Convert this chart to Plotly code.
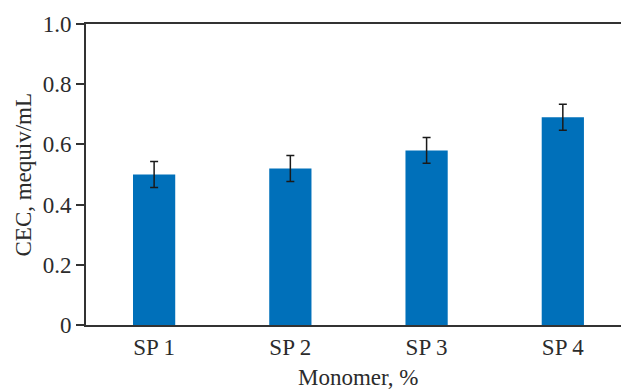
import plotly.graph_objects as go

# Cation exchange capacity of the sorbent polymers
categories = ["SP 1", "SP 2", "SP 3", "SP 4"]
cec_values = [0.50, 0.52, 0.58, 0.69]
cec_errors = [0.043, 0.043, 0.043, 0.043]
y_tick_values = [0, 0.2, 0.4, 0.6, 0.8, 1.0]
y_tick_labels = ["0", "0.2", "0.4", "0.6", "0.8", "1.0"]

FONT = "Liberation Serif"
INK = "#2b2b2b"
SIZE = 23

fig = go.Figure(
    go.Bar(
        x=list(range(len(categories))),
        y=cec_values,
        width=0.31,
        marker=dict(color="#0070BA", line=dict(width=0)),
        error_y=dict(type="data", array=cec_errors, visible=True,
                     color="#1a1a1a", thickness=1.5, width=4),
    )
)

fig.update_layout(
    width=621, height=390,
    margin=dict(l=86, r=0, t=24, b=65),
    paper_bgcolor="white", plot_bgcolor="white",
    showlegend=False,
    font=dict(family=FONT, size=SIZE, color=INK),
    xaxis=dict(
        range=[-0.5, 3.427],
        tickvals=list(range(len(categories))), ticktext=categories,
        showline=True, linecolor="#333333", linewidth=2, mirror=True,
        ticks="", showgrid=False, zeroline=False,
        tickfont=dict(family=FONT, size=SIZE, color=INK),
    ),
    yaxis=dict(
        range=[0, 1.0],
        tickvals=y_tick_values, ticktext=y_tick_labels,
        showline=True, linecolor="#333333", linewidth=2,
        ticks="outside", ticklen=8, tickwidth=1.5, tickcolor="#333333",
        showgrid=False, zeroline=False,
        tickfont=dict(family=FONT, size=SIZE, color=INK),
    ),
    annotations=[
        dict(text="Monomer, %", xref="x", yref="paper", x=1.5, y=0,
             yshift=-52, xanchor="center", yanchor="middle", showarrow=False,
             font=dict(family=FONT, size=SIZE, color=INK)),
        dict(text="CEC, mequiv/mL", xref="paper", yref="paper",
             x=-(86 - 23) / 535, y=0.5, xanchor="center", yanchor="middle",
             textangle=-90, showarrow=False,
             font=dict(family=FONT, size=SIZE, color=INK)),
    ],
)

fig.write_html("out.html")
